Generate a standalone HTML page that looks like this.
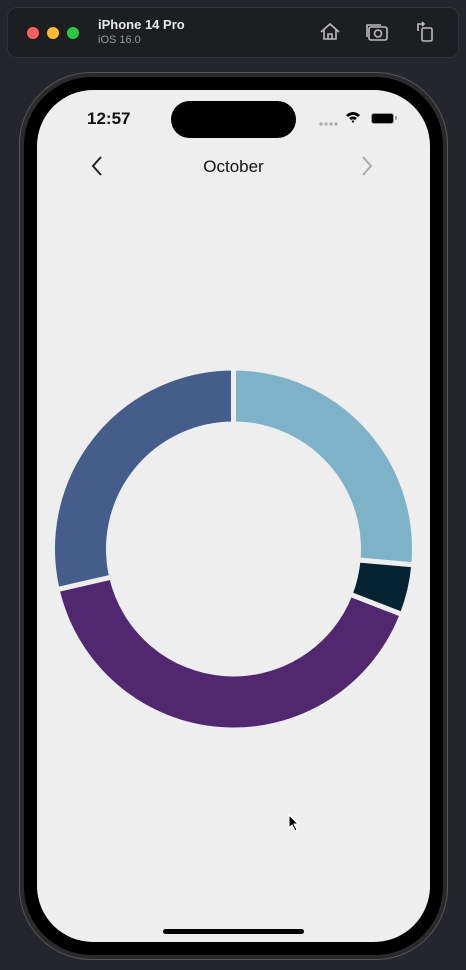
<!DOCTYPE html>
<html><head><meta charset="utf-8">
<style>
body{margin:0;width:466px;height:970px;background:#25262b;overflow:hidden;font-family:"Liberation Sans",sans-serif;position:relative}
.tb{position:absolute;left:7px;top:7px;width:452px;height:51px;background:#1d1e21;border:1px solid #333;border-radius:10px;box-sizing:border-box}
.dot{position:absolute;top:27px;width:12px;height:12px;border-radius:50%}
.frame{position:absolute;left:19px;top:72px;width:429px;height:888px;border-radius:72px;background:#2a2a2c;border:1px solid #555;box-sizing:border-box}
.bezel{position:absolute;left:24px;top:77px;width:419px;height:878px;border-radius:68px;background:#000}
.screen{position:absolute;left:37px;top:90px;width:393px;height:852px;border-radius:56px;background:#eeeeee;overflow:hidden}
</style></head><body>
<div class="tb"></div>
<div class="dot" style="left:27px;background:#fe5f57"></div>
<div class="dot" style="left:47px;background:#febc2e"></div>
<div class="dot" style="left:67px;background:#28c840"></div>
<div style="position:absolute;left:98px;top:17px;color:#e8e8e8;font-weight:bold;font-size:13px">iPhone 14 Pro</div>
<div style="position:absolute;left:98px;top:34px;color:#999;font-size:11px">iOS 16.0</div>
<svg style="position:absolute;left:315px;top:18px" width="120" height="26" fill="none" stroke="#bbb" stroke-width="1.6">
<path d="M6 14 L15 6 L24 14 M9 12 V21 H21 V12 M13 21 V16 H17 V21"/>
<rect x="54" y="9" width="18" height="13" rx="2"/><circle cx="63" cy="15.5" r="3.5"/><path d="M52 19 V7 H66"/>
<rect x="107" y="10" width="10" height="13" rx="1.5"/><path d="M103 13 V6 H109 M107 4 L109 6 L107 8"/>
</svg>
<div class="frame"></div>
<div class="bezel"></div>
<div class="screen">
<div style="position:absolute;left:50px;top:19px;font-weight:bold;font-size:17px;color:#111">12:57</div>
<div style="position:absolute;left:134px;top:11px;width:125px;height:37px;border-radius:19px;background:#000"></div>
<svg style="position:absolute;left:282px;top:31px" width="20" height="6"><g fill="#aaa"><circle cx="2" cy="3" r="1.6"/><circle cx="7" cy="3" r="1.6"/><circle cx="12" cy="3" r="1.6"/><circle cx="17" cy="3" r="1.6"/></g></svg>
<svg style="position:absolute;left:308px;top:21px" width="16" height="12"><path d="M1 4 Q8 -2 15 4 L13 6 Q8 2 3 6Z M4 7 Q8 4 12 7 L10 9 Q8 7.5 6 9Z M8 12 L6.5 10 Q8 9 9.5 10Z" fill="#000"/></svg>
<div style="position:absolute;left:334px;top:23px;width:21px;height:9px;border-radius:3px;background:#000;border:1px solid #999"></div>
<div style="position:absolute;left:358px;top:26px;width:2px;height:4px;background:#999;border-radius:0 1px 1px 0"></div>
<svg style="position:absolute;left:52px;top:65px" width="16" height="22"><path d="M12 2 L4 11 L12 20" stroke="#222" stroke-width="2" fill="none"/></svg>
<div style="position:absolute;left:0;width:393px;top:67px;text-align:center;font-size:17px;color:#111">October</div>
<svg style="position:absolute;left:322px;top:65px" width="16" height="22"><path d="M4 2 L12 11 L4 20" stroke="#aaa" stroke-width="2" fill="none"/></svg>
<div style="position:absolute;left:126px;top:839px;width:141px;height:5px;border-radius:3px;background:#000"></div>
</div>
<svg id="donut" style="position:absolute;left:0;top:0" width="466" height="970"></svg>
<script>
const categories=["A","B","C","D"];
const values=[26.4,4.5,40.5,28.6];
const colors=["#7eb2c7","#062334","#51276f","#455d8a"];
const svg=document.getElementById('donut');
const cx=233.5,cy=549,R=181,r=125;
const total=values.reduce((a,b)=>a+b,0);
function pt(a,rad){return [cx+rad*Math.sin(a),cy-rad*Math.cos(a)];}
let acc=0;
values.forEach((v,i)=>{
  const a0=acc/total*2*Math.PI,a1=(acc+v)/total*2*Math.PI;acc+=v;
  const large=(a1-a0)>Math.PI?1:0;
  const p0=pt(a0,R),p1=pt(a1,R),q1=pt(a1,r),q0=pt(a0,r);
  const p=document.createElementNS('http://www.w3.org/2000/svg','path');
  p.setAttribute('d',`M${p0} A${R},${R} 0 ${large} 1 ${p1} L${q1} A${r},${r} 0 ${large} 0 ${q0}Z`);
  p.setAttribute('fill',colors[i]);p.setAttribute('stroke','#eeeeee');p.setAttribute('stroke-width','5');
  
  
  svg.appendChild(p);
});
</script>
<svg style="position:absolute;left:288px;top:814px" width="12" height="18"><path d="M1 1 L1 14 L4 11 L7 17 L9 16 L6 10 L10 10Z" fill="#000" stroke="#fff" stroke-width="1"/></svg>
</body></html>
